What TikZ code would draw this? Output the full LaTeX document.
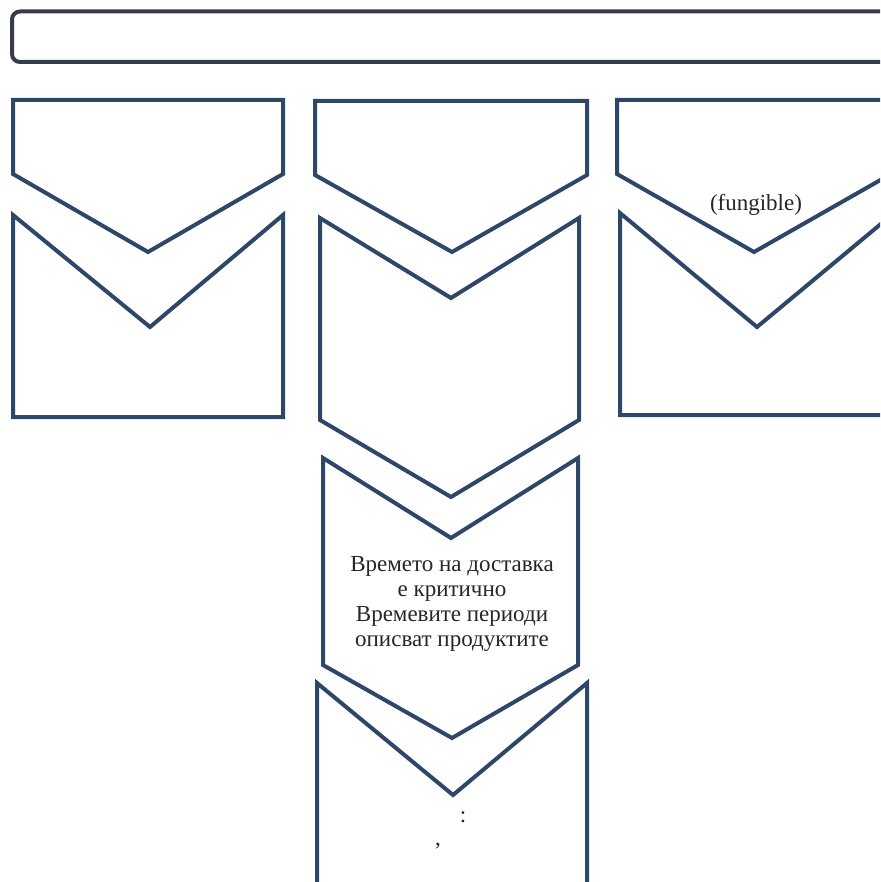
\documentclass[tikz,border=0pt]{standalone}
\usepackage{fontspec}
\setmainfont{Liberation Serif}
\definecolor{edge}{HTML}{2E4768}
\definecolor{edgedark}{HTML}{353D4A}
\tikzset{
  shapeline/.style={draw=edge, line width=4pt, line join=miter, fill=white},
  topbar/.style={draw=edgedark, line width=4pt, rounded corners=8pt, fill=white},
  lbl/.style={font=\fontsize{23}{25}\selectfont, text=black!85, align=center, inner sep=0pt}
}
\begin{document}
\begin{tikzpicture}[x=1pt,y=-1pt]
\useasboundingbox (0,0) rectangle (880,882);
\clip (0,0) rectangle (880,882);
% top bar
\draw[topbar] (12,11.5) rectangle (900,62);
% column 1
\draw[shapeline] (13,100) -- (283,100) -- (283,174) -- (148,252) -- (13,174) -- cycle;
\draw[shapeline] (13,215) -- (150,327) -- (283,215) -- (283,417) -- (13,417) -- cycle;
% column 2
\draw[shapeline] (315,101) -- (587,101) -- (587,175) -- (452,252) -- (315,175) -- cycle;
\draw[shapeline] (320,218) -- (451,298) -- (579,218) -- (579,420) -- (451,497) -- (320,420) -- cycle;
\draw[shapeline] (323,458) -- (451,538) -- (578,458) -- (578,665) -- (452,738) -- (323,665) -- cycle;
\draw[shapeline] (317,683) -- (453,795) -- (587,683) -- (587,900) -- (317,900) -- cycle;
% column 3
\draw[shapeline] (617,100) -- (891,100) -- (891,174) -- (754,252) -- (617,174) -- cycle;
\draw[shapeline] (620,213) -- (757,327) -- (894,213) -- (894,415) -- (620,415) -- cycle;
% texts
\node[lbl] (fung) at (756,205) {(fungible)};
\node[lbl] (crit) at (452,604) {Времето на доставка\\е критично\\Времевите периоди\\описват продуктите};
\node[lbl] (colon) at (463,817) {:};
\node[lbl] (comma) at (438,846) {,};
\end{tikzpicture}
\end{document}
